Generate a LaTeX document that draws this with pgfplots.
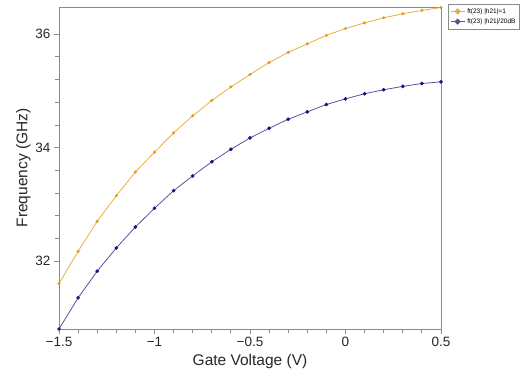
\documentclass[border=0pt]{standalone}
\usepackage{fontspec}
\setmainfont{Liberation Sans}
\usepackage{pgfplots}
\pgfplotsset{compat=1.18}
\definecolor{orline}{HTML}{E8B040}
\definecolor{ormark}{HTML}{E09A20}
\definecolor{blline}{HTML}{55559C}
\definecolor{blmark}{HTML}{14148A}
\definecolor{frame}{HTML}{8A8A8A}
\begin{document}
\begin{tikzpicture}
\begin{axis}[
  at={(0,0)}, anchor=south west,
  scale only axis, width=382pt, height=322pt,
  xmin=-1.5, xmax=0.5, ymin=30.8, ymax=36.48,
  xtick={-1.5,-1,-0.5,0,0.5},
  xticklabels={−1.5,−1,−0.5,0,0.5},
  ytick={32,34,36},
  minor x tick num=4, minor y tick num=4,
  tick align=outside, tick pos=left,
  major tick length=5pt, minor tick length=4pt,
  axis line style={frame, line width=0.9pt},
  every tick/.style={frame, line width=0.8pt},
  tick label style={font=\fontsize{13.5}{15}\selectfont, text=black!85},
  /pgf/number format/assume math mode=true,
  xlabel={Gate Voltage (V)}, ylabel={Frequency (GHz)},
  label style={font=\fontsize{15.5}{18}\selectfont, text=black!85},
  xlabel style={yshift=0pt},
  ylabel style={yshift=-2pt},
  legend cell align=left,
  legend style={at={(1.018,1.009)}, anchor=north west, draw=frame, font=\fontsize{6.5}{7.5}\selectfont, inner sep=2pt, row sep=0pt},
  legend image code/.code={
    \draw[#1, mark=none, line width=1pt] (0cm,0cm) -- (0.5cm,0cm);
    \fill[#1, mark=none] (0.25cm,0cm) ++(-2.6pt,0pt) -- ++(2.6pt,2.6pt) -- ++(2.6pt,-2.6pt) -- ++(-2.6pt,-2.6pt) -- cycle;
  },
]
\addplot[color=orline, line width=0.8pt, mark=*, mark size=1.1pt, mark options={draw=ormark, fill=ormark}]
coordinates {
(-1.5,31.60) (-1.4,32.17) (-1.3,32.70) (-1.2,33.15) (-1.1,33.57) (-1.0,33.92)
(-0.9,34.26) (-0.8,34.56) (-0.7,34.83) (-0.6,35.07) (-0.5,35.29) (-0.4,35.50)
(-0.3,35.68) (-0.2,35.83) (-0.1,35.98) (0.0,36.10) (0.1,36.20) (0.2,36.29)
(0.3,36.36) (0.4,36.42) (0.5,36.47)
};
\addlegendentry{ft(23) |h21|=1}
\addplot[color=blline, line width=0.8pt, mark=*, mark size=1.4pt, mark options={draw=blmark, fill=blmark}]
coordinates {
(-1.5,30.80) (-1.4,31.35) (-1.3,31.82) (-1.2,32.23) (-1.1,32.60) (-1.0,32.93)
(-0.9,33.24) (-0.8,33.50) (-0.7,33.75) (-0.6,33.97) (-0.5,34.17) (-0.4,34.34)
(-0.3,34.50) (-0.2,34.63) (-0.1,34.76) (0.0,34.86) (0.1,34.95) (0.2,35.02)
(0.3,35.08) (0.4,35.13) (0.5,35.16)
};
\addlegendentry{ft(23) |h21|/20dB}
\end{axis}
\pgfresetboundingbox
\useasboundingbox (-59pt,-49pt) rectangle (472pt,329pt);
\end{tikzpicture}
\end{document}
